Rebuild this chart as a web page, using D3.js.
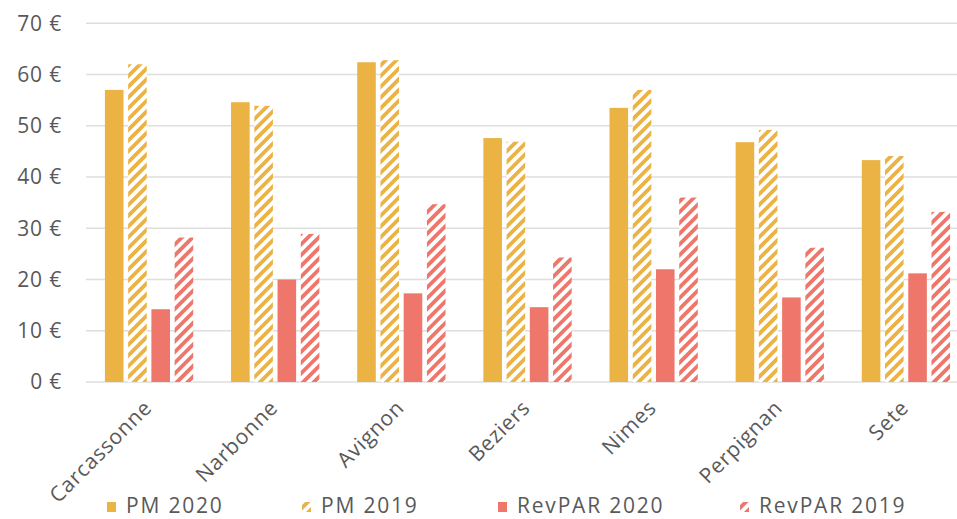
<!DOCTYPE html>
<html>
<head>
<meta charset="utf-8">
<script src="https://cdn.jsdelivr.net/npm/d3@7"></script>
<style>
  html, body { margin: 0; padding: 0; background: #fff; }
  svg { display: block; }
  text { font-family: "Open Sans", "Noto Sans", sans-serif; fill: #595959; letter-spacing: 0.8px; }
  .legend text { letter-spacing: 1.8px; }
</style>
</head>
<body>
<svg id="chart" width="957" height="519"></svg>
<script>
const categories = ["Carcassonne", "Narbonne", "Avignon", "Beziers", "Nimes", "Perpignan", "Sete"];
const seriesNames = ["PM 2020", "PM 2019", "RevPAR 2020", "RevPAR 2019"];
const pm2020 = [57.0, 54.6, 62.4, 47.6, 53.5, 46.8, 43.3];
const pm2019 = [62.0, 53.9, 62.8, 46.9, 57.0, 49.2, 44.1];
const revpar2020 = [14.2, 20.0, 17.3, 14.6, 22.0, 16.5, 21.2];
const revpar2019 = [28.2, 28.9, 34.7, 24.3, 36.0, 26.2, 33.2];
const yTicks = [0, 10, 20, 30, 40, 50, 60, 70];

const seriesValues = [pm2020, pm2019, revpar2020, revpar2019];
const seriesStyle = [
  { color: "#EBB244", hatch: false },
  { color: "#EBB244", hatch: true },
  { color: "#EE766A", hatch: false },
  { color: "#EE766A", hatch: true }
];

const svg = d3.select("#chart");
const plotLeft = 86, plotRight = 969, plotTop = 23.3, plotBottom = 382;
const fontFamily = "'Open Sans', 'Noto Sans', sans-serif";

const defs = svg.append("defs");
seriesStyle.forEach((s, i) => {
  if (!s.hatch) return;
  const p = defs.append("pattern")
    .attr("id", "hatch" + i)
    .attr("patternUnits", "userSpaceOnUse")
    .attr("width", 7.6).attr("height", 7.6)
    .attr("patternTransform", "rotate(45)");
  p.append("rect").attr("width", 7.6).attr("height", 7.6).attr("fill", "#fff");
  p.append("rect").attr("width", 3.8).attr("height", 7.6).attr("fill", s.color);
});

const y = d3.scaleLinear().domain([0, 70]).range([plotBottom, plotTop]);
const x0 = d3.scaleBand().domain(categories).range([plotLeft, plotRight]).paddingInner(0.3).paddingOuter(0.15);
const x1 = d3.scaleBand().domain(seriesNames).range([0, x0.bandwidth()]).paddingInner(0.2);

// gridlines
svg.append("g").selectAll("line").data(yTicks).join("line")
  .attr("x1", plotLeft).attr("x2", 957)
  .attr("y1", d => y(d)).attr("y2", d => y(d))
  .attr("stroke", "#DEDEDE").attr("stroke-width", 1.5);

// y axis labels
const yAxis = d3.axisLeft(y).tickValues(yTicks).tickFormat(d => d + " €").tickSize(0).tickPadding(0);
const gy = svg.append("g").attr("transform", "translate(62,0)").call(yAxis);
gy.select(".domain").remove();
gy.selectAll("text").attr("font-size", 21).attr("fill", "#595959")
  .style("font-family", fontFamily);

// bars
const groups = svg.append("g").selectAll("g").data(categories).join("g")
  .attr("transform", d => `translate(${x0(d)},0)`);
groups.selectAll("rect").data((c, ci) => seriesNames.map((s, si) => ({ s, si, v: seriesValues[si][ci] })))
  .join("rect")
  .attr("x", d => x1(d.s))
  .attr("width", x1.bandwidth())
  .attr("y", d => y(d.v))
  .attr("height", d => y(0) - y(d.v))
  .attr("fill", d => seriesStyle[d.si].hatch ? `url(#hatch${d.si})` : seriesStyle[d.si].color);

// x axis labels
const xAxis = d3.axisBottom(x0).tickSize(0).tickPadding(0);
const gx = svg.append("g").attr("transform", `translate(0,${plotBottom})`).call(xAxis);
gx.select(".domain").remove();
gx.selectAll("text")
  .attr("font-size", 21).attr("fill", "#595959")
  .style("font-family", fontFamily)
  .attr("text-anchor", "end")
  .attr("dy", 0).attr("y", 0)
  .attr("transform", "translate(4,27) rotate(-45)");

// legend
const legendX = [107, 302, 498, 740];
const lg = svg.append("g").attr("class", "legend").selectAll("g").data(seriesNames).join("g")
  .attr("transform", (d, i) => `translate(${legendX[i]},0)`);
lg.append("rect").attr("x", 0).attr("y", 502).attr("width", 9).attr("height", 10)
  .attr("fill", (d, i) => seriesStyle[i].hatch ? `url(#hatch${i})` : seriesStyle[i].color);
lg.append("text").attr("x", 19).attr("y", 513).attr("font-size", 21).text(d => d);
</script>
</body>
</html>
